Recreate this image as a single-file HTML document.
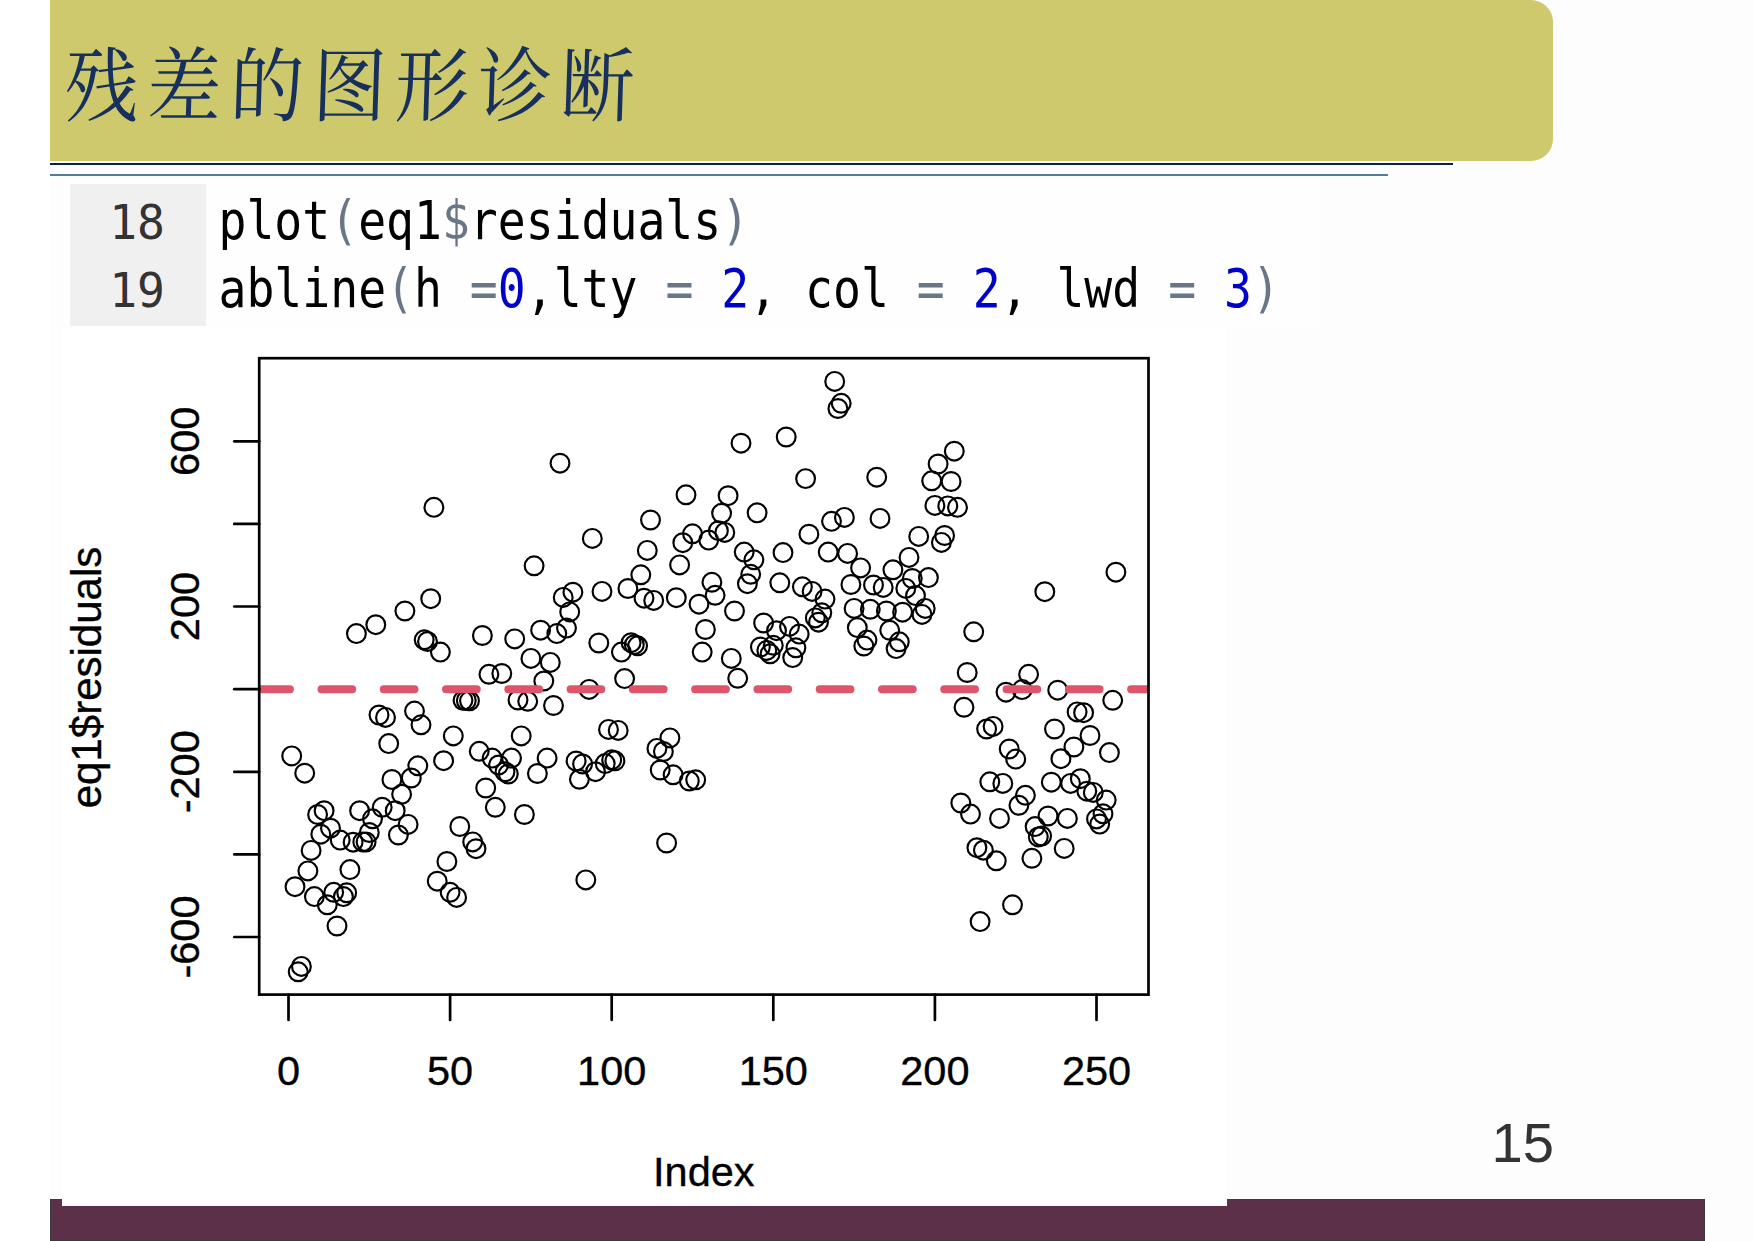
<!DOCTYPE html>
<html lang="zh">
<head>
<meta charset="utf-8">
<title>残差的图形诊断</title>
<style>
html,body{margin:0;padding:0;background:#fff;}
body{width:1754px;height:1241px;overflow:hidden;position:relative;}
svg{position:absolute;left:0;top:0;display:block;}
.sans{font-family:"Liberation Sans",sans-serif;}
.mono{font-family:"DejaVu Sans Mono","Liberation Mono",monospace;}
.title{font-family:"Liberation Serif","Noto Serif CJK SC",serif;}
</style>
</head>
<body>
<svg width="1754" height="1241" viewBox="0 0 1754 1241">
<!-- backgrounds -->
<rect x="0" y="0" width="1754" height="1241" fill="#fdfdfd"/>
<rect x="0" y="0" width="50" height="1241" fill="#ffffff"/>
<!-- title banner -->
<path d="M50 0 H1531 A22 22 0 0 1 1553 22 V139 A22 22 0 0 1 1531 161 H50 Z" fill="#cdc96c"/>
<rect x="50" y="163" width="1403" height="2" fill="#0b1f52"/>
<rect x="50" y="174" width="1338" height="2" fill="#4f7e98"/>
<g class="title" fill="#18305e" font-size="74" transform="translate(64,114.5) scale(1,1.1) skewX(-2)">
<text x="0" y="0" letter-spacing="8.6">残差的图形诊断</text>
</g>
<!-- footer bar -->
<rect x="50" y="1199" width="1655" height="42" fill="#5c3049"/>
<rect x="50" y="1199" width="1655" height="1" fill="#3a3a3a"/>
<rect x="50" y="1199" width="1" height="42" fill="#3a3a3a"/>
<rect x="1704" y="1199" width="1" height="42" fill="#3a3a3a"/>
<rect x="50" y="1240" width="1655" height="1" fill="#3a3a3a"/>
<!-- code image -->
<rect x="62" y="178" width="1259" height="149" fill="#fefefe"/>
<rect x="70" y="184" width="136" height="142" fill="#f0f0f0"/>
<g class="mono" font-size="50">
<g transform="translate(165,239.2) scale(0.965,1)"><text x="0" y="0" font-size="48" text-anchor="end" fill="#333">18</text></g>
<g transform="translate(165,307.4) scale(0.965,1)"><text x="0" y="0" font-size="48" text-anchor="end" fill="#333">19</text></g>
<g transform="translate(218.5,239.3) scale(0.928,1.08)"><text x="0" y="0" xml:space="preserve" fill="#000">plot<tspan fill="#687687">(</tspan>eq1<tspan fill="#687687">$</tspan>residuals<tspan fill="#687687">)</tspan></text></g>
<g transform="translate(218.5,306.9) scale(0.928,1.08)"><text x="0" y="0" xml:space="preserve" fill="#000">abline<tspan fill="#687687">(</tspan>h <tspan fill="#687687">=</tspan><tspan fill="#0000cd">0</tspan>,lty <tspan fill="#687687">=</tspan> <tspan fill="#0000cd">2</tspan>, col <tspan fill="#687687">=</tspan> <tspan fill="#0000cd">2</tspan>, lwd <tspan fill="#687687">=</tspan> <tspan fill="#0000cd">3</tspan><tspan fill="#687687">)</tspan></text></g>
</g>
<!-- plot image -->
<rect x="62" y="328" width="1165" height="878" fill="#ffffff"/>
<g fill="none" stroke="#000" stroke-width="2.15">
<circle cx="291.7" cy="755.9" r="9.4"/>
<circle cx="295.0" cy="886.7" r="9.4"/>
<circle cx="298.2" cy="971.8" r="9.4"/>
<circle cx="301.4" cy="966.4" r="9.4"/>
<circle cx="304.7" cy="773.2" r="9.4"/>
<circle cx="307.9" cy="870.9" r="9.4"/>
<circle cx="311.1" cy="850.4" r="9.4"/>
<circle cx="314.4" cy="896.6" r="9.4"/>
<circle cx="317.6" cy="814.5" r="9.4"/>
<circle cx="320.8" cy="834.2" r="9.4"/>
<circle cx="324.1" cy="810.7" r="9.4"/>
<circle cx="327.3" cy="904.8" r="9.4"/>
<circle cx="330.5" cy="828.2" r="9.4"/>
<circle cx="333.7" cy="892.3" r="9.4"/>
<circle cx="337.0" cy="926.0" r="9.4"/>
<circle cx="340.2" cy="840.1" r="9.4"/>
<circle cx="343.4" cy="896.6" r="9.4"/>
<circle cx="346.7" cy="892.8" r="9.4"/>
<circle cx="349.9" cy="869.6" r="9.4"/>
<circle cx="353.1" cy="842.2" r="9.4"/>
<circle cx="356.4" cy="633.6" r="9.4"/>
<circle cx="359.6" cy="810.7" r="9.4"/>
<circle cx="362.8" cy="841.9" r="9.4"/>
<circle cx="366.1" cy="841.9" r="9.4"/>
<circle cx="369.3" cy="832.5" r="9.4"/>
<circle cx="372.5" cy="818.8" r="9.4"/>
<circle cx="375.8" cy="624.7" r="9.4"/>
<circle cx="379.0" cy="715.0" r="9.4"/>
<circle cx="382.2" cy="807.3" r="9.4"/>
<circle cx="385.5" cy="717.4" r="9.4"/>
<circle cx="388.7" cy="743.6" r="9.4"/>
<circle cx="391.9" cy="779.5" r="9.4"/>
<circle cx="395.2" cy="810.7" r="9.4"/>
<circle cx="398.4" cy="835.0" r="9.4"/>
<circle cx="401.6" cy="794.3" r="9.4"/>
<circle cx="404.9" cy="611.0" r="9.4"/>
<circle cx="408.1" cy="824.4" r="9.4"/>
<circle cx="411.3" cy="778.0" r="9.4"/>
<circle cx="414.5" cy="711.1" r="9.4"/>
<circle cx="417.8" cy="765.8" r="9.4"/>
<circle cx="421.0" cy="724.8" r="9.4"/>
<circle cx="424.2" cy="639.8" r="9.4"/>
<circle cx="427.5" cy="641.5" r="9.4"/>
<circle cx="430.7" cy="598.7" r="9.4"/>
<circle cx="433.9" cy="507.3" r="9.4"/>
<circle cx="437.2" cy="881.2" r="9.4"/>
<circle cx="440.4" cy="652.1" r="9.4"/>
<circle cx="443.6" cy="760.7" r="9.4"/>
<circle cx="446.9" cy="861.5" r="9.4"/>
<circle cx="450.1" cy="892.3" r="9.4"/>
<circle cx="453.3" cy="735.9" r="9.4"/>
<circle cx="456.6" cy="897.4" r="9.4"/>
<circle cx="459.8" cy="826.5" r="9.4"/>
<circle cx="463.0" cy="700.3" r="9.4"/>
<circle cx="466.3" cy="700.5" r="9.4"/>
<circle cx="469.5" cy="700.8" r="9.4"/>
<circle cx="472.7" cy="841.9" r="9.4"/>
<circle cx="476.0" cy="848.7" r="9.4"/>
<circle cx="479.2" cy="751.3" r="9.4"/>
<circle cx="482.4" cy="635.5" r="9.4"/>
<circle cx="485.7" cy="788.0" r="9.4"/>
<circle cx="488.9" cy="674.3" r="9.4"/>
<circle cx="492.1" cy="758.1" r="9.4"/>
<circle cx="495.3" cy="807.3" r="9.4"/>
<circle cx="498.6" cy="765.0" r="9.4"/>
<circle cx="501.8" cy="673.5" r="9.4"/>
<circle cx="505.0" cy="771.8" r="9.4"/>
<circle cx="508.3" cy="774.0" r="9.4"/>
<circle cx="511.5" cy="758.1" r="9.4"/>
<circle cx="514.7" cy="638.9" r="9.4"/>
<circle cx="518.0" cy="700.0" r="9.4"/>
<circle cx="521.2" cy="735.9" r="9.4"/>
<circle cx="524.4" cy="814.5" r="9.4"/>
<circle cx="527.7" cy="701.3" r="9.4"/>
<circle cx="530.9" cy="658.4" r="9.4"/>
<circle cx="534.1" cy="565.8" r="9.4"/>
<circle cx="537.4" cy="773.5" r="9.4"/>
<circle cx="540.6" cy="630.2" r="9.4"/>
<circle cx="543.8" cy="681.0" r="9.4"/>
<circle cx="547.1" cy="758.1" r="9.4"/>
<circle cx="550.3" cy="662.4" r="9.4"/>
<circle cx="553.5" cy="705.5" r="9.4"/>
<circle cx="556.8" cy="633.6" r="9.4"/>
<circle cx="560.0" cy="463.2" r="9.4"/>
<circle cx="563.2" cy="597.4" r="9.4"/>
<circle cx="566.5" cy="628.1" r="9.4"/>
<circle cx="569.7" cy="611.9" r="9.4"/>
<circle cx="572.9" cy="592.2" r="9.4"/>
<circle cx="576.1" cy="761.0" r="9.4"/>
<circle cx="579.4" cy="779.3" r="9.4"/>
<circle cx="582.6" cy="764.0" r="9.4"/>
<circle cx="585.8" cy="879.9" r="9.4"/>
<circle cx="589.1" cy="689.4" r="9.4"/>
<circle cx="592.3" cy="538.4" r="9.4"/>
<circle cx="595.5" cy="771.7" r="9.4"/>
<circle cx="598.8" cy="643.0" r="9.4"/>
<circle cx="602.0" cy="591.4" r="9.4"/>
<circle cx="605.2" cy="763.6" r="9.4"/>
<circle cx="608.5" cy="729.4" r="9.4"/>
<circle cx="611.7" cy="759.8" r="9.4"/>
<circle cx="614.9" cy="760.8" r="9.4"/>
<circle cx="618.2" cy="730.4" r="9.4"/>
<circle cx="621.4" cy="652.1" r="9.4"/>
<circle cx="624.6" cy="678.6" r="9.4"/>
<circle cx="627.9" cy="588.5" r="9.4"/>
<circle cx="631.1" cy="642.7" r="9.4"/>
<circle cx="634.3" cy="644.7" r="9.4"/>
<circle cx="637.6" cy="645.8" r="9.4"/>
<circle cx="640.8" cy="574.8" r="9.4"/>
<circle cx="644.0" cy="598.2" r="9.4"/>
<circle cx="647.3" cy="550.4" r="9.4"/>
<circle cx="650.5" cy="520.0" r="9.4"/>
<circle cx="653.7" cy="600.4" r="9.4"/>
<circle cx="656.9" cy="748.4" r="9.4"/>
<circle cx="660.2" cy="770.0" r="9.4"/>
<circle cx="663.4" cy="751.5" r="9.4"/>
<circle cx="666.6" cy="843.0" r="9.4"/>
<circle cx="669.9" cy="737.9" r="9.4"/>
<circle cx="673.1" cy="774.8" r="9.4"/>
<circle cx="676.3" cy="597.7" r="9.4"/>
<circle cx="679.6" cy="564.9" r="9.4"/>
<circle cx="682.8" cy="542.7" r="9.4"/>
<circle cx="686.0" cy="494.8" r="9.4"/>
<circle cx="689.3" cy="781.0" r="9.4"/>
<circle cx="692.5" cy="533.8" r="9.4"/>
<circle cx="695.7" cy="779.8" r="9.4"/>
<circle cx="699.0" cy="604.2" r="9.4"/>
<circle cx="702.2" cy="652.1" r="9.4"/>
<circle cx="705.4" cy="629.5" r="9.4"/>
<circle cx="708.7" cy="540.1" r="9.4"/>
<circle cx="711.9" cy="582.3" r="9.4"/>
<circle cx="715.1" cy="595.3" r="9.4"/>
<circle cx="718.4" cy="530.7" r="9.4"/>
<circle cx="721.6" cy="513.3" r="9.4"/>
<circle cx="724.8" cy="532.4" r="9.4"/>
<circle cx="728.1" cy="495.7" r="9.4"/>
<circle cx="731.3" cy="658.4" r="9.4"/>
<circle cx="734.5" cy="611.0" r="9.4"/>
<circle cx="737.7" cy="678.3" r="9.4"/>
<circle cx="741.0" cy="443.2" r="9.4"/>
<circle cx="744.2" cy="552.1" r="9.4"/>
<circle cx="747.4" cy="583.7" r="9.4"/>
<circle cx="750.7" cy="574.3" r="9.4"/>
<circle cx="753.9" cy="559.8" r="9.4"/>
<circle cx="757.1" cy="512.8" r="9.4"/>
<circle cx="760.4" cy="647.0" r="9.4"/>
<circle cx="763.6" cy="623.0" r="9.4"/>
<circle cx="766.8" cy="650.4" r="9.4"/>
<circle cx="770.1" cy="653.8" r="9.4"/>
<circle cx="773.3" cy="645.3" r="9.4"/>
<circle cx="776.5" cy="630.7" r="9.4"/>
<circle cx="779.8" cy="582.8" r="9.4"/>
<circle cx="783.0" cy="552.6" r="9.4"/>
<circle cx="786.2" cy="437.0" r="9.4"/>
<circle cx="789.5" cy="626.4" r="9.4"/>
<circle cx="792.7" cy="657.6" r="9.4"/>
<circle cx="795.9" cy="647.8" r="9.4"/>
<circle cx="799.2" cy="634.1" r="9.4"/>
<circle cx="802.4" cy="586.8" r="9.4"/>
<circle cx="805.6" cy="478.6" r="9.4"/>
<circle cx="808.9" cy="534.2" r="9.4"/>
<circle cx="812.1" cy="591.4" r="9.4"/>
<circle cx="815.3" cy="617.9" r="9.4"/>
<circle cx="818.5" cy="622.2" r="9.4"/>
<circle cx="821.8" cy="612.8" r="9.4"/>
<circle cx="825.0" cy="599.1" r="9.4"/>
<circle cx="828.2" cy="552.1" r="9.4"/>
<circle cx="831.5" cy="521.3" r="9.4"/>
<circle cx="834.7" cy="381.4" r="9.4"/>
<circle cx="837.9" cy="408.5" r="9.4"/>
<circle cx="841.2" cy="403.3" r="9.4"/>
<circle cx="844.4" cy="517.4" r="9.4"/>
<circle cx="847.6" cy="553.4" r="9.4"/>
<circle cx="850.9" cy="584.5" r="9.4"/>
<circle cx="854.1" cy="608.4" r="9.4"/>
<circle cx="857.3" cy="627.6" r="9.4"/>
<circle cx="860.6" cy="567.9" r="9.4"/>
<circle cx="863.8" cy="646.0" r="9.4"/>
<circle cx="867.0" cy="640.1" r="9.4"/>
<circle cx="870.3" cy="609.3" r="9.4"/>
<circle cx="873.5" cy="585.0" r="9.4"/>
<circle cx="876.7" cy="477.2" r="9.4"/>
<circle cx="880.0" cy="518.4" r="9.4"/>
<circle cx="883.2" cy="587.4" r="9.4"/>
<circle cx="886.4" cy="611.0" r="9.4"/>
<circle cx="889.7" cy="630.3" r="9.4"/>
<circle cx="892.9" cy="569.8" r="9.4"/>
<circle cx="896.1" cy="648.6" r="9.4"/>
<circle cx="899.3" cy="641.8" r="9.4"/>
<circle cx="902.6" cy="612.2" r="9.4"/>
<circle cx="905.8" cy="588.4" r="9.4"/>
<circle cx="909.0" cy="557.4" r="9.4"/>
<circle cx="912.3" cy="578.5" r="9.4"/>
<circle cx="915.5" cy="595.6" r="9.4"/>
<circle cx="918.7" cy="536.4" r="9.4"/>
<circle cx="922.0" cy="614.4" r="9.4"/>
<circle cx="925.2" cy="608.4" r="9.4"/>
<circle cx="928.4" cy="577.6" r="9.4"/>
<circle cx="931.7" cy="480.8" r="9.4"/>
<circle cx="934.9" cy="505.4" r="9.4"/>
<circle cx="938.1" cy="464.0" r="9.4"/>
<circle cx="941.4" cy="542.4" r="9.4"/>
<circle cx="944.6" cy="535.5" r="9.4"/>
<circle cx="947.8" cy="505.9" r="9.4"/>
<circle cx="951.1" cy="481.5" r="9.4"/>
<circle cx="954.3" cy="451.2" r="9.4"/>
<circle cx="957.5" cy="507.3" r="9.4"/>
<circle cx="960.8" cy="803.0" r="9.4"/>
<circle cx="964.0" cy="707.3" r="9.4"/>
<circle cx="967.2" cy="672.5" r="9.4"/>
<circle cx="970.5" cy="814.1" r="9.4"/>
<circle cx="973.7" cy="631.8" r="9.4"/>
<circle cx="976.9" cy="847.7" r="9.4"/>
<circle cx="980.1" cy="921.6" r="9.4"/>
<circle cx="983.4" cy="850.2" r="9.4"/>
<circle cx="986.6" cy="729.0" r="9.4"/>
<circle cx="989.8" cy="781.8" r="9.4"/>
<circle cx="993.1" cy="726.4" r="9.4"/>
<circle cx="996.3" cy="860.8" r="9.4"/>
<circle cx="999.5" cy="818.4" r="9.4"/>
<circle cx="1002.8" cy="783.4" r="9.4"/>
<circle cx="1006.0" cy="692.2" r="9.4"/>
<circle cx="1009.2" cy="749.0" r="9.4"/>
<circle cx="1012.5" cy="904.8" r="9.4"/>
<circle cx="1015.7" cy="759.1" r="9.4"/>
<circle cx="1018.9" cy="805.3" r="9.4"/>
<circle cx="1022.2" cy="689.6" r="9.4"/>
<circle cx="1025.4" cy="795.3" r="9.4"/>
<circle cx="1028.6" cy="674.3" r="9.4"/>
<circle cx="1031.9" cy="858.3" r="9.4"/>
<circle cx="1035.1" cy="826.6" r="9.4"/>
<circle cx="1038.3" cy="836.9" r="9.4"/>
<circle cx="1041.6" cy="836.0" r="9.4"/>
<circle cx="1044.8" cy="591.7" r="9.4"/>
<circle cx="1048.0" cy="816.0" r="9.4"/>
<circle cx="1051.3" cy="782.2" r="9.4"/>
<circle cx="1054.5" cy="729.0" r="9.4"/>
<circle cx="1057.7" cy="690.2" r="9.4"/>
<circle cx="1060.9" cy="758.7" r="9.4"/>
<circle cx="1064.2" cy="848.4" r="9.4"/>
<circle cx="1067.4" cy="818.4" r="9.4"/>
<circle cx="1070.6" cy="783.4" r="9.4"/>
<circle cx="1073.9" cy="747.0" r="9.4"/>
<circle cx="1077.1" cy="711.9" r="9.4"/>
<circle cx="1080.3" cy="778.7" r="9.4"/>
<circle cx="1083.6" cy="712.7" r="9.4"/>
<circle cx="1086.8" cy="791.2" r="9.4"/>
<circle cx="1090.0" cy="735.5" r="9.4"/>
<circle cx="1093.3" cy="792.4" r="9.4"/>
<circle cx="1096.5" cy="818.9" r="9.4"/>
<circle cx="1099.7" cy="824.1" r="9.4"/>
<circle cx="1103.0" cy="813.8" r="9.4"/>
<circle cx="1106.2" cy="800.1" r="9.4"/>
<circle cx="1109.4" cy="752.6" r="9.4"/>
<circle cx="1112.7" cy="700.3" r="9.4"/>
<circle cx="1115.9" cy="572.2" r="9.4"/>
</g>
<line x1="259.2" y1="689.2" x2="1148.5" y2="689.2" stroke="#df536b" stroke-width="8" stroke-linecap="round" stroke-dasharray="30.7 31.58" clip-path="url(#pc)"/>
<clipPath id="pc"><rect x="259.2" y="358.2" width="889.3" height="636.4000000000001"/></clipPath>
<rect x="259.2" y="358.2" width="889.3" height="636.4000000000001" fill="none" stroke="#000" stroke-width="2.7"/>
<g stroke="#000" stroke-width="2.7" stroke-linecap="round"><line x1="288.5" y1="994.6" x2="288.5" y2="1020"/><line x1="450.1" y1="994.6" x2="450.1" y2="1020"/><line x1="611.7" y1="994.6" x2="611.7" y2="1020"/><line x1="773.3" y1="994.6" x2="773.3" y2="1020"/><line x1="934.9" y1="994.6" x2="934.9" y2="1020"/><line x1="1096.5" y1="994.6" x2="1096.5" y2="1020"/><line x1="234.3" y1="441.3" x2="259.2" y2="441.3"/><line x1="234.3" y1="523.9" x2="259.2" y2="523.9"/><line x1="234.3" y1="606.5" x2="259.2" y2="606.5"/><line x1="234.3" y1="689.2" x2="259.2" y2="689.2"/><line x1="234.3" y1="771.8" x2="259.2" y2="771.8"/><line x1="234.3" y1="854.4" x2="259.2" y2="854.4"/><line x1="234.3" y1="937.0" x2="259.2" y2="937.0"/></g>
<g class="sans" font-size="41.5" fill="#000" stroke="#000" stroke-width="0.35">
<text x="288.5" y="1084.6" text-anchor="middle">0</text><text x="450.1" y="1084.6" text-anchor="middle">50</text><text x="611.7" y="1084.6" text-anchor="middle">100</text><text x="773.3" y="1084.6" text-anchor="middle">150</text><text x="934.9" y="1084.6" text-anchor="middle">200</text><text x="1096.5" y="1084.6" text-anchor="middle">250</text>
<text transform="translate(199,441.3) rotate(-90)" text-anchor="middle">600</text><text transform="translate(199,606.5) rotate(-90)" text-anchor="middle">200</text><text transform="translate(199,771.8) rotate(-90)" text-anchor="middle">-200</text><text transform="translate(199,937.0) rotate(-90)" text-anchor="middle">-600</text>
<text x="703.8" y="1185.8" text-anchor="middle">Index</text>
<text transform="translate(100.5,677.5) rotate(-90)" text-anchor="middle" font-size="42">eq1$residuals</text>
</g>
<!-- slide number -->
<text class="sans" x="1554" y="1161.8" font-size="56.2" fill="#333" text-anchor="end">15</text>
</svg>
</body>
</html>
